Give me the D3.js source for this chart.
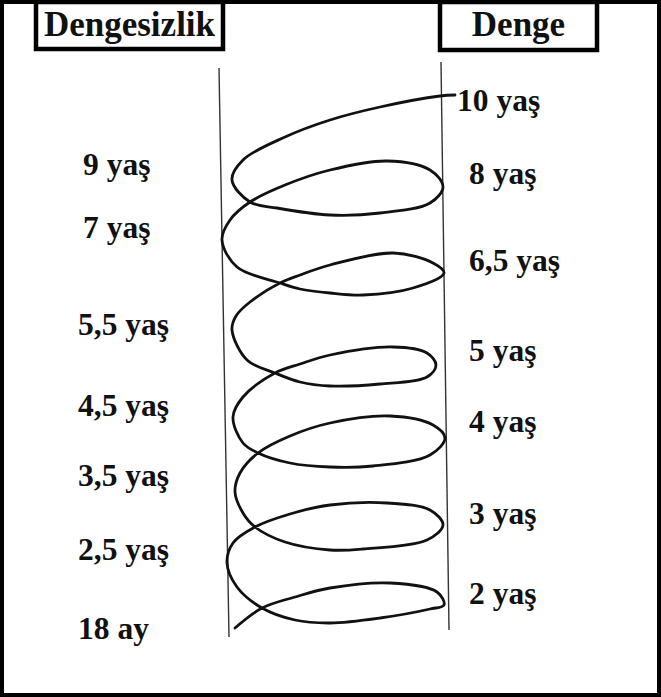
<!DOCTYPE html>
<html>
<head>
<meta charset="utf-8">
<script src="https://cdn.jsdelivr.net/npm/d3@7"></script>
<style>
	body { margin: 0; background: #fff; }
	svg { display: block; }
	.lbl { font-family: "Liberation Serif", "Times New Roman", serif; font-weight: bold; fill: #111; }
</style>
</head>
<body>
<div id="chart"></div>
<script>
// header titles
const headers = ["Dengesizlik", "Denge"];

// ages on the "Denge" side (right) with their height on the spiral
const rightAges = ["10 yaş", "8 yaş", "6,5 yaş", "5 yaş", "4 yaş", "3 yaş", "2 yaş"];
const rightLevels = [517, 444, 357, 267, 196, 104, 24];

// ages on the "Dengesizlik" side (left)
const leftAges = ["9 yaş", "7 yaş", "5,5 yaş", "4,5 yaş", "3,5 yaş", "2,5 yaş", "18 ay"];
const leftLevels = [453, 390, 293, 212, 142, 68, -11];

// hand-traced spiral, from 18 ay (bottom) up to 10 yaş
// u: 0 = dengesizlik line, 225 = denge line ; v: height
const spiralU = [15, 42, 75, 110, 170, 217, 224, 210, 160, 110, 75, 42, 17, 7, 13, 35, 70, 110, 167, 210, 223, 207, 143, 110, 65, 35,
	23, 15, 20, 38, 70, 110, 170, 213, 225, 210, 153, 110, 70, 38, 23, 13, 23, 55, 80, 110, 173, 207, 216, 207, 160, 110, 80, 55,
	27, 12, 16, 30, 60, 80, 110, 173, 213, 224, 193, 143, 110, 80, 60, 17, 2, 10, 30, 65, 110, 167, 210, 223, 210, 160, 110, 57, 30,
	12, 23, 65, 110, 160, 220, 235];
const spiralV = [0, 20, 31, 40, 45, 36, 23, 19, 10, 5, 8, 20, 41, 65, 85, 101, 114, 123, 125, 118, 103, 88, 79, 78, 86, 101,
	115, 136, 155, 175, 192, 205, 212, 203, 190, 173, 162, 161, 165, 175, 185, 211, 231, 255, 264, 273, 281, 275, 263, 251, 244, 242, 246, 255,
	268, 298, 312, 326, 345, 353, 363, 375, 365, 355, 340, 333, 335, 339, 345, 361, 388, 408, 426, 443, 458, 467, 458, 441, 425, 415, 413, 420, 426,
	448, 468, 491, 508, 521, 532, 533];

// the two guide lines (slightly slanted, as drawn)
const guideLeft = [[-1, 560], [9, -9]];
const guideRight = [[221, 566], [229, -2]];

const W = 661, H = 697;

const x = d3.scaleLinear().domain([0, 225]).range([220, 445]);
const y = d3.scaleLinear().domain([0, 532]).range([628, 96]);

const svg = d3.select("#chart").append("svg")
	.attr("width", W)
	.attr("height", H);

// outer frame
svg.append("rect")
	.attr("x", 2).attr("y", 2)
	.attr("width", W - 4).attr("height", H - 4)
	.attr("fill", "none")
	.attr("stroke", "#000")
	.attr("stroke-width", 4);

// header boxes
const boxes = [
	{ x0: 36, x1: 223, y1: 49 },
	{ x0: 440, x1: 597, y1: 50 },
];
boxes.forEach((b, i) => {
	svg.append("rect")
		.attr("x", b.x0).attr("y", 2)
		.attr("width", b.x1 - b.x0).attr("height", b.y1 - 2)
		.attr("fill", "#fff")
		.attr("stroke", "#000")
		.attr("stroke-width", 4.5);
	svg.append("text")
		.attr("class", "lbl")
		.attr("x", (b.x0 + b.x1) / 2)
		.attr("y", 36)
		.attr("text-anchor", "middle")
		.style("font-size", "35px")
		.text(headers[i]);
});

// guide lines
const line = d3.line().x((d) => x(d[0])).y((d) => y(d[1]));
[guideLeft, guideRight].forEach((g) => {
	svg.append("path")
		.attr("d", line(g))
		.attr("fill", "none")
		.attr("stroke", "#333")
		.attr("stroke-width", 1.4);
});

// spiral
const spiral = d3.range(spiralU.length).map((i) => [spiralU[i], spiralV[i]]);
svg.append("path")
	.attr("d", line.curve(d3.curveCatmullRom.alpha(0.5))(spiral))
	.attr("fill", "none")
	.attr("stroke", "#111")
	.attr("stroke-width", 2.8)
	.attr("stroke-linecap", "round")
	.attr("stroke-linejoin", "round");

// age labels
svg.selectAll("text.right")
	.data(rightAges)
	.enter()
	.append("text")
	.attr("class", "lbl right")
	.attr("x", (d, i) => (i === 0 ? x(237) : x(249)))
	.attr("y", (d, i) => y(rightLevels[i]))
	.style("font-size", "31.5px")
	.text((d) => d);

svg.selectAll("text.left")
	.data(leftAges)
	.enter()
	.append("text")
	.attr("class", "lbl left")
	.attr("x", (d, i) => (i < 2 ? 83 : 78))
	.attr("y", (d, i) => y(leftLevels[i]))
	.style("font-size", "31.5px")
	.text((d) => d);
</script>
</body>
</html>
